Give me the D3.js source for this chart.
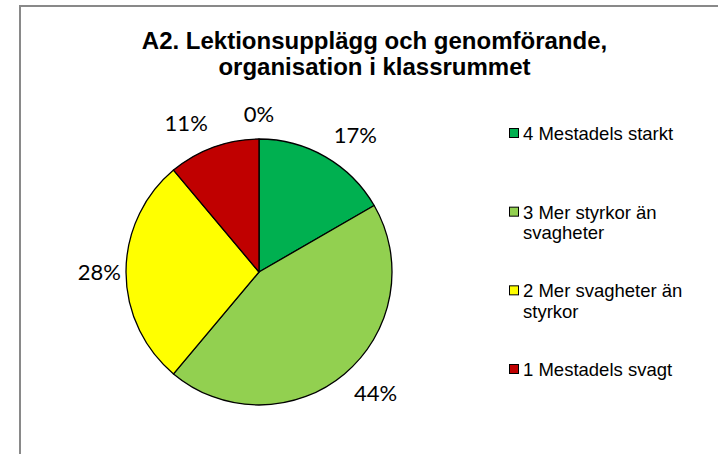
<!DOCTYPE html>
<html>
<head>
<meta charset="utf-8">
<script src="https://cdn.jsdelivr.net/npm/d3@7"></script>
<style>
  body { margin: 0; background: #fff; }
</style>
</head>
<body>
<div id="chart"></div>
<script>
// Chart data
const titleLines = ["A2. Lektionsupplägg och genomförande,", "organisation i klassrummet"];
const categories = ["4 Mestadels starkt", "3 Mer styrkor än svagheter", "2 Mer svagheter än styrkor", "1 Mestadels svagt", ""];
const counts = [3, 8, 5, 2, 0];
const sliceColors = ["#00B050", "#92D050", "#FFFF00", "#C00000", "#4F81BD"];

let svgWidth = 718;
let svgHeight = 454;

let center = { x: 259, y: 272 };
let radius = 133;

let svg = d3.select("#chart")
            .append("svg")
            .attr("width", svgWidth)
            .attr("height", svgHeight);

// Chart area frame
svg.append("rect")
    .attr("x", 20)
    .attr("y", 6)
    .attr("width", 709)
    .attr("height", 470)
    .attr("fill", "#fff")
    .attr("stroke", "#898989")
    .attr("stroke-width", 2);

// Title
let title = svg.append("text")
    .attr("text-anchor", "middle")
    .style("font-family", "'Liberation Sans', Arial, sans-serif")
    .style("font-weight", "bold")
    .style("font-size", "24px")
    .attr("fill", "#000");

title.selectAll("tspan")
    .data(titleLines)
    .enter()
    .append("tspan")
    .attr("x", 374.5)
    .attr("y", (d, i) => 49 + i * 26)
    .text(d => d);

let data = categories.map((c, i) => ({ name: c, value: counts[i] }));
let total = d3.sum(counts);

let color = d3.scaleOrdinal()
    .domain(categories)
    .range(sliceColors);

let pie = d3.pie().sort(null).value(d => d.value);
let arc = d3.arc().innerRadius(0).outerRadius(radius);

let pieGroup = svg.append("g")
    .attr("transform", `translate(${center.x}, ${center.y})`);

let arcs = pie(data);

pieGroup.selectAll("path")
    .data(arcs.filter(d => d.data.value > 0))
    .enter()
    .append("path")
    .attr("d", arc)
    .attr("fill", d => color(d.data.name))
    .attr("stroke", "#000")
    .attr("stroke-width", 1.3)
    .attr("stroke-linejoin", "round");

// Data labels, outside end
let digitHeight = 16;
let clamp = v => Math.max(-1, Math.min(1, v));

pieGroup.selectAll("text.lbl")
    .data(arcs)
    .enter()
    .append("text")
    .attr("class", "lbl")
    .attr("text-anchor", "middle")
    .style("font-family", "Lato, 'Open Sans', sans-serif")
    .style("font-size", "22px")
    .attr("fill", "#000")
    .text(d => Math.round(d.data.value / total * 100) + "%")
    .each(function(d) {
        let mid = (d.startAngle + d.endAngle) / 2;
        let s = Math.sin(mid), c = Math.cos(mid);
        let w = this.getComputedTextLength();
        // labels sit a bit closer to the pie on its left/right sides
        let labelRadius = radius + 17 - 12 * Math.pow(Math.abs(s), 4);
        let cx = labelRadius * s + clamp(3 * s) * w / 2;
        let cy = -labelRadius * c - clamp(3 * c) * digitHeight / 2;
        d3.select(this)
            .attr("x", cx)
            .attr("y", cy + digitHeight / 2);
    });

// Legend
let legendData = data.filter(d => d.name !== "");
let legendY = d3.scalePoint()
    .domain(legendData.map(d => d.name))
    .range([140, 376]);

let legend = svg.append("g");

let items = legend.selectAll("g")
    .data(legendData)
    .enter()
    .append("g")
    .attr("transform", d => `translate(0, ${legendY(d.name)})`);

items.append("rect")
    .attr("x", 509.5)
    .attr("y", -11.5)
    .attr("width", 9)
    .attr("height", 9)
    .attr("fill", d => color(d.name))
    .attr("stroke", "#000")
    .attr("stroke-width", 1);

items.append("text")
    .style("font-family", "'Liberation Sans', Arial, sans-serif")
    .style("font-size", "18.5px")
    .attr("fill", "#000")
    .each(function(d) {
        // wrap the entry text into lines no wider than maxWidth
        let el = d3.select(this);
        let words = d.name.split(" ");
        let maxWidth = 170;
        let line = [];
        let lineNo = 0;
        let tspan = el.append("tspan").attr("x", 523).attr("y", 0);
        words.forEach(w => {
            line.push(w);
            tspan.text(line.join(" "));
            if (tspan.node().getComputedTextLength() > maxWidth && line.length > 1) {
                line.pop();
                tspan.text(line.join(" "));
                line = [w];
                lineNo++;
                tspan = el.append("tspan").attr("x", 523).attr("y", lineNo * 20.5).text(w);
            }
        });
    });
</script>
</body>
</html>
